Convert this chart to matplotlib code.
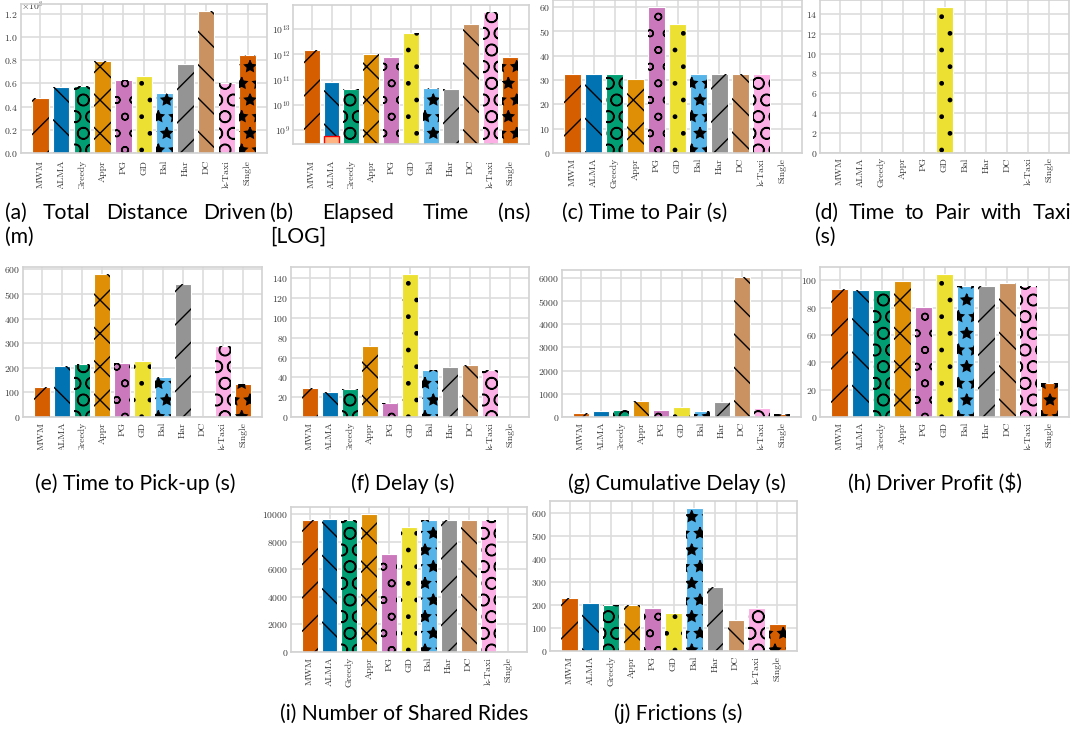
import numpy as np
import matplotlib
matplotlib.use('Agg')
import matplotlib.pyplot as plt
from matplotlib.ticker import MultipleLocator, FixedLocator, NullLocator
from matplotlib.transforms import Bbox

W, H = 1091, 734

algos = ['MWM', 'ALMA', 'Greedy', 'Appr', 'PG', 'GD', 'Bal', 'Har', 'DC', 'k-Taxi', 'Single']
colores = ['#d55e00', '#0173b2', '#029e73', '#de8f05', '#cc78bc', '#ece133',
           '#56b4e9', '#949494', '#ca9161', '#fbafe4', '#d55e00']
tramas = ['/', '\\', 'O', 'x', 'o', '.', '*', '/', '\\', 'O', '*']

# valores
distancia = [0.475e8, 0.57e8, 0.58e8, 0.79e8, 0.63e8, 0.665e8, 0.515e8, 0.765e8, 1.225e8, 0.60e8, 0.85e8]
tiempo_ejec = [1.5e12, 7.9e10, 4.2e10, 1.05e12, 8.1e11, 6.9e12, 4.6e10, 4.2e10, 1.6e13, 4.7e13, 7.8e11]
tiempo_ejec_alma = 5.8e8
tiempo_par = [32.3, 32.3, 32.3, 30.3, 59.9, 53.1, 32.3, 32.3, 32.3, 32.3, 0]
tiempo_par_taxi = [0, 0, 0, 0, 0, 14.65, 0, 0, 0, 0, 0]
tiempo_recogida = [124, 208, 216, 581, 219, 228, 163, 540, 0, 289, 135]
demora = [29.2, 25.2, 28.5, 71.8, 14.1, 144.3, 47, 51, 52.7, 47.7, 0]
demora_acum = [187, 273, 302, 690, 316, 446, 273, 633, 6040, 374, 144]
ganancia = [93.2, 92.5, 92.7, 99.5, 80.6, 104.4, 95.6, 96.1, 97.6, 95.6, 25]
viajes = [9564, 9637, 9564, 10000, 7094, 9031, 9564, 9564, 9564, 9564, 0]
fricciones = [231, 207, 199, 202, 189, 167, 621, 279, 134, 186, 119]

plt.rcParams['font.family'] = ['cmr10', 'DejaVu Serif']
plt.rcParams['mathtext.fontset'] = 'cm'
plt.rcParams['axes.formatter.use_mathtext'] = True
plt.rcParams['axes.unicode_minus'] = False
plt.rcParams['hatch.linewidth'] = 1.0

fig = plt.figure(figsize=(W / 100, H / 100), dpi=100)


def ejes(l, t, r, b):
    return fig.add_axes([l / W, 1 - b / H, (r - l) / W, (b - t) / H])


def barras(ax, vals, clip_y, xpad):
    x = np.arange(len(algos))
    ax.bar(x, vals, 0.8, color=colores, edgecolor='white', linewidth=0.8)
    capa = ax.bar(x, vals, 0.8, fill=False, edgecolor='black', linewidth=0)
    for b, h in zip(capa, tramas):
        b.set_hatch(h)
    ax.set_facecolor('white')
    for s in ax.spines.values():
        s.set_color('#d2d2d2')
        s.set_linewidth(1.2)
    ax.grid(True, color='#dddddd', linewidth=1.2)
    ax.set_axisbelow(True)
    ax.tick_params(length=0, labelcolor='#3a3a3a')
    ax.tick_params(axis='y', pad=2, labelsize=7)
    ax.tick_params(axis='x', pad=xpad, labelsize=7)
    ax.set_xticks(x)
    ax.set_xticklabels(algos, rotation=90)
    caja = Bbox.from_extents(0, H - clip_y, W, H)
    for lab in ax.get_xticklabels():
        lab.set_clip_box(caja)
        lab.set_clip_on(True)


# fila 1
ax = ejes(21, 4, 267, 153)
barras(ax, distancia, 189, 5)
ax.yaxis.set_major_locator(MultipleLocator(0.2e8))
off = ax.yaxis.get_offset_text()
off.set_fontsize(7)
off.set_color('#3a3a3a')
off.set_verticalalignment('top')

ax = ejes(293, 5, 529, 144)
barras(ax, tiempo_ejec, 189, 11.5)
ax.bar(1, tiempo_ejec_alma, 0.8, color='#ffb482', edgecolor='red', linewidth=1)
ax.set_yscale('log')
ax.set_ylim(2.8e8, 9.2e13)
ax.yaxis.set_major_locator(FixedLocator([1e9, 1e10, 1e11, 1e12, 1e13]))
ax.yaxis.set_minor_locator(NullLocator())

ax = ejes(553, 0, 802, 153)
barras(ax, tiempo_par, 189, 3.5)
ax.yaxis.set_major_locator(MultipleLocator(10))

ax = ejes(820, 0, 1069, 153)
barras(ax, tiempo_par_taxi, 189, 3)
ax.yaxis.set_major_locator(MultipleLocator(2))

# fila 2
ax = ejes(23, 267, 262, 417)
barras(ax, tiempo_recogida, 450, 3.5)
ax.yaxis.set_major_locator(MultipleLocator(100))

ax = ejes(291, 267, 529, 417)
barras(ax, demora, 450, 3.5)
ax.yaxis.set_major_locator(MultipleLocator(20))

ax = ejes(562, 270, 801, 417)
barras(ax, demora_acum, 450, 3.5)
ax.yaxis.set_major_locator(MultipleLocator(1000))

ax = ejes(820, 267, 1069, 417)
barras(ax, ganancia, 450, 3.5)
ax.yaxis.set_major_locator(MultipleLocator(20))

# fila 3
ax = ejes(291, 507, 527, 652)
barras(ax, viajes, 689, 3.5)
ax.yaxis.set_major_locator(MultipleLocator(2000))

ax = ejes(550, 501, 797, 651)
barras(ax, fricciones, 689, 3.5)
ax.yaxis.set_major_locator(MultipleLocator(100))

# textos de pie
fuente = dict(family=['Lato', 'DejaVu Sans'], size=15.2, color='black', va='baseline')
rend = fig.canvas.get_renderer()


def justificar(palabras, x0, x1, y):
    ts = [fig.text(0, 1 - y / H, p, ha='left', **fuente) for p in palabras]
    anchos = [t.get_window_extent(rend).width for t in ts]
    hueco = (x1 - x0 - sum(anchos)) / (len(ts) - 1)
    x = x0
    for t, a in zip(ts, anchos):
        t.set_x(x / W)
        x += a + hueco


justificar(['(a)', 'Total', 'Distance', 'Driven'], 5, 266, 219)
fig.text(5 / W, 1 - 243 / H, '(m)', ha='left', **fuente)
justificar(['(b)', 'Elapsed', 'Time', '(ns)'], 270, 530, 219)
fig.text(270 / W, 1 - 243 / H, '[LOG]', ha='left', **fuente)
fig.text(562 / W, 1 - 219 / H, '(c) Time to Pair (s)', ha='left', **fuente)
justificar(['(d)', 'Time', 'to', 'Pair', 'with', 'Taxi'], 815, 1071, 219)
fig.text(815 / W, 1 - 243 / H, '(s)', ha='left', **fuente)

fig.text(135 / W, 1 - 490 / H, '(e) Time to Pick-up (s)', ha='center', **fuente)
fig.text(403 / W, 1 - 490 / H, '(f) Delay (s)', ha='center', **fuente)
fig.text(677 / W, 1 - 490 / H, '(g) Cumulative Delay (s)', ha='center', **fuente)
fig.text(935 / W, 1 - 490 / H, '(h) Driver Profit ($)', ha='center', **fuente)
fig.text(404 / W, 1 - 720 / H, '(i) Number of Shared Rides', ha='center', **fuente)
fig.text(678 / W, 1 - 720 / H, '(j) Frictions (s)', ha='center', **fuente)

fig.savefig('out.png', dpi=100)
